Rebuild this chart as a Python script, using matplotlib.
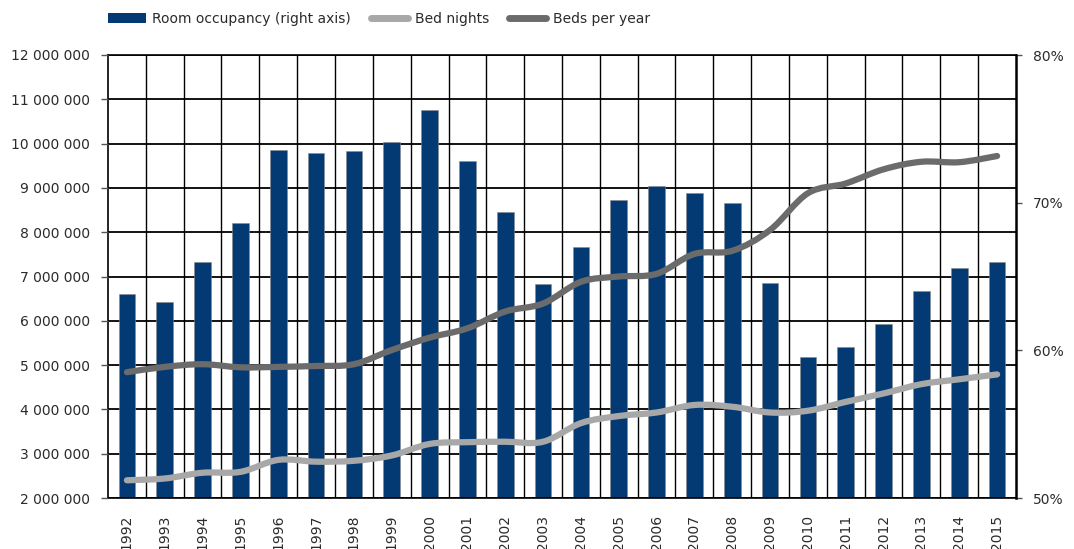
import numpy as np
import matplotlib.pyplot as plt
from matplotlib.path import Path
from matplotlib.patches import PathPatch, Patch
from matplotlib.lines import Line2D
from matplotlib.ticker import FuncFormatter

plt.rcParams['font.family'] = ['DejaVu Sans']
plt.rcParams['font.size'] = 10

years = list(range(1992, 2016))

# room occupancy in percent (right axis)
room_occupancy = [63.8, 63.25, 65.95, 68.65, 73.6, 73.35, 73.5, 74.1, 76.3, 72.85, 69.4, 64.5,
                  67.0, 70.15, 71.1, 70.65, 70.0, 64.55, 59.55, 60.2, 61.75, 64.05, 65.55, 66.0]

bed_nights = [2400000, 2440000, 2570000, 2590000, 2860000, 2820000, 2840000, 2960000,
              3220000, 3260000, 3270000, 3270000, 3690000, 3850000, 3930000, 4100000,
              4060000, 3930000, 3970000, 4170000, 4360000, 4570000, 4680000, 4790000]

beds_per_year = [4840000, 4960000, 5020000, 4950000, 4960000, 4980000, 5020000, 5340000,
                 5620000, 5830000, 6210000, 6390000, 6880000, 7000000, 7060000, 7510000,
                 7580000, 8050000, 8880000, 9100000, 9420000, 9590000, 9580000, 9720000]

left_ticks = list(range(2000000, 12000001, 1000000))
right_ticks = [50, 60, 70, 80]

NAVY = '#033A73'
LIGHT = '#A8A8A8'
DARK = '#6B6B6B'
TEXT = '#2b2b2b'

LEFT_MIN, LEFT_MAX = 2000000, 12000000
PCT_MIN, PCT_MAX = 50, 80


def to_pct(v):
    return PCT_MIN + (v - LEFT_MIN) / (LEFT_MAX - LEFT_MIN) * (PCT_MAX - PCT_MIN)


def smooth_path(x, y):
    # cubic bezier through every point, catmull-rom style control points
    pts = np.column_stack([x, y]).astype(float)
    n = len(pts)
    verts = [pts[0]]
    codes = [Path.MOVETO]
    for i in range(n - 1):
        p0 = pts[max(i - 1, 0)]
        p1 = pts[i]
        p2 = pts[i + 1]
        p3 = pts[min(i + 2, n - 1)]
        c1 = p1 + (p2 - p0) / 6.0
        c2 = p2 - (p3 - p1) / 6.0
        verts += [c1, c2, p2]
        codes += [Path.CURVE4] * 3
    return Path(verts, codes)


fig = plt.figure(figsize=(10.74, 5.49), dpi=100)
ax = fig.add_axes([108 / 1074, 51 / 549, 908 / 1074, 443 / 549])
x = np.arange(len(years))

# grid drawn underneath the bars
for v in left_ticks:
    ax.axhline(to_pct(v), color='black', lw=1.3, zorder=0.5)
for b in np.arange(0.5, len(years) - 1, 1):
    ax.axvline(b, color='black', lw=1.0, zorder=0.5)

ax.bar(x, room_occupancy, width=0.44, color=NAVY, edgecolor='#8a8a8a', linewidth=0.4, zorder=2)
ax.set_xlim(-0.5, len(years) - 0.5)
ax.set_ylim(PCT_MIN, PCT_MAX)
ax.set_xticks(x)
ax.set_xticklabels([str(y) for y in years], rotation=90)
ax.tick_params(axis='x', length=0, pad=12, labelcolor=TEXT)
for s in ['left', 'top', 'bottom']:
    ax.spines[s].set_linewidth(1.2)
ax.spines['right'].set_linewidth(1.8)

# left axis for the two volume series
ax_l = ax.twinx()
ax_l.yaxis.tick_left()
ax_l.set_ylim(LEFT_MIN, LEFT_MAX)
ax_l.set_yticks(left_ticks)
ax_l.yaxis.set_major_formatter(FuncFormatter(lambda v, p: f'{int(v):,}'.replace(',', ' ')))
ax_l.tick_params(axis='y', length=5, width=1.0, color='#555555', pad=8, labelcolor=TEXT)
for s in ax_l.spines.values():
    s.set_visible(False)

# percent scale sits on the right
ax.yaxis.tick_right()
ax.set_yticks(right_ticks)
ax.yaxis.set_major_formatter(FuncFormatter(lambda v, p: f'{int(v)}%'))
ax.tick_params(axis='y', length=4.5, width=1.0, color='#555555', pad=8, labelcolor=TEXT)

ax_l.add_patch(PathPatch(smooth_path(x, bed_nights), fill=False, edgecolor=LIGHT,
                         lw=4.5, capstyle='round', joinstyle='round', zorder=3))
ax_l.add_patch(PathPatch(smooth_path(x, beds_per_year), fill=False, edgecolor=DARK,
                         lw=4.5, capstyle='round', joinstyle='round', zorder=3))

handles = [
    Patch(facecolor=NAVY, edgecolor='none'),
    Line2D([], [], color=LIGHT, lw=5, solid_capstyle='round'),
    Line2D([], [], color=DARK, lw=5, solid_capstyle='round'),
]
labels = ['Room occupancy (right axis)', 'Bed nights', 'Beds per year']
fig.legend(handles, labels, loc='center left', bbox_to_anchor=(108 / 1074, 1 - 19 / 549),
           ncol=3, frameon=False, handlelength=2.7, handletextpad=0.5, columnspacing=1.4,
           borderpad=0, borderaxespad=0, fontsize=10, labelcolor=TEXT)

fig.savefig('out.png', dpi=100)
